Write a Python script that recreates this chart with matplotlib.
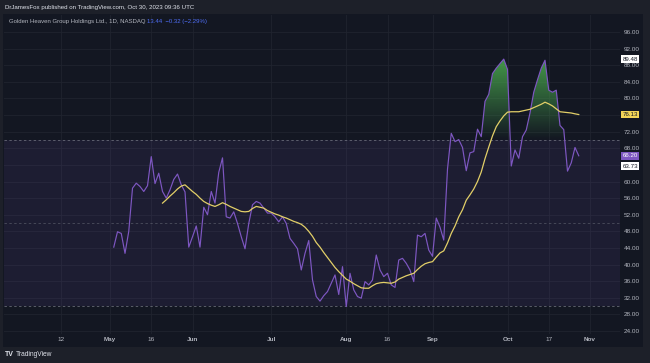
import numpy as np
import pandas as pd
import matplotlib
matplotlib.use("Agg")
import matplotlib.pyplot as plt
from matplotlib.path import Path
from matplotlib.patches import Rectangle
from matplotlib.transforms import blended_transform_factory

plt.rcParams['font.family'] = ['Liberation Sans', 'DejaVu Sans']

# trading sessions (NASDAQ closures in the span)
holidays = ["2023-04-07", "2023-05-29", "2023-06-19", "2023-07-04", "2023-09-04"]
sessions = pd.bdate_range("2023-04-03", "2023-11-30", freq="C", holidays=holidays)

# RSI(14), daily, 2023-05-02 .. 2023-10-27
rsi_start = "2023-05-02"
rsi_values = [
    44.2, 47.9, 47.5, 42.7, 48.0, 58.4, 59.6, 58.8, 57.6, 59.0,
    66.0, 59.5, 62.0, 57.6, 56.0, 58.0, 60.5, 61.8, 59.2, 57.5,
    44.2, 46.7, 49.3, 44.2, 53.8, 52.0, 57.6, 54.8, 62.2, 65.7,
    51.5, 51.2, 52.7, 49.9, 46.7, 43.8, 49.9, 54.4, 55.2, 54.8,
    53.6, 52.4, 52.4, 51.5, 50.3, 51.5, 49.9, 46.3, 45.1, 43.8,
    38.7, 42.7, 45.8, 36.3, 32.3, 31.2, 32.5, 33.5, 35.5, 37.5,
    32.8, 39.5, 29.9, 37.9, 33.9, 32.3, 31.9, 35.9, 35.1, 36.3,
    42.3, 38.7, 37.1, 37.9, 35.1, 34.5, 41.1, 41.5, 40.3, 38.7,
    35.9, 47.1, 46.7, 47.5, 43.5, 42.0, 51.2, 49.0, 45.9, 63.0,
    71.6, 69.6, 70.1, 68.2, 62.6, 66.9, 67.2, 72.6, 70.8, 79.3,
    81.0, 86.0, 87.3, 88.4, 89.48, 87.0, 63.73, 67.6, 65.6, 70.8,
    72.4, 76.5, 81.5, 84.5, 87.3, 89.2, 82.0, 81.5, 82.0, 73.5,
    72.5, 62.5, 64.5, 68.2, 66.2,
]

# RSI-based moving average, 2023-05-19 .. 2023-10-27
ma_start = "2023-05-19"
ma_values = [
    54.8, 55.6, 56.5, 57.3, 58.2, 58.9, 59.2, 58.4, 57.6, 56.9,
    56.0, 55.2, 54.7, 54.3, 54.0, 54.4, 54.9, 54.5, 54.0, 53.6,
    53.2, 52.8, 52.7, 52.8, 53.5, 54.0, 53.8, 53.6, 53.0, 52.6,
    52.2, 51.9, 51.5, 51.2, 50.8, 50.4, 50.1, 49.7, 49.0, 48.0,
    46.8, 45.3, 44.2, 42.9, 41.7, 40.5, 39.3, 38.3, 37.4, 36.5,
    36.0, 35.4, 34.9, 34.4, 34.3, 34.3, 34.9, 35.4, 35.6, 35.7,
    35.6, 35.5, 35.8, 36.5, 36.9, 37.3, 37.6, 37.9, 38.8, 39.6,
    40.2, 40.5, 40.7, 41.8, 42.8, 43.3, 45.2, 47.5, 49.3, 51.5,
    53.2, 55.5, 56.8, 58.2, 60.0, 62.3, 65.5, 68.3, 71.0, 73.2,
    74.6, 75.8, 76.7, 76.8, 76.8, 76.8, 77.0, 77.2, 77.4, 77.8,
    78.2, 78.6, 79.1, 78.7, 78.2, 77.5, 76.8, 76.7, 76.6, 76.5,
    76.3, 76.13,
]

tick_dates = ["2023-04-12", "2023-05-01", "2023-05-16", "2023-06-01", "2023-07-03",
              "2023-08-01", "2023-08-16", "2023-09-01", "2023-10-02", "2023-10-17",
              "2023-11-01"]
tick_labels = ["12", "May", "16", "Jun", "Jul", "Aug", "16", "Sep", "Oct", "17", "Nov"]

price_ticks = list(range(24, 100, 4))
hidden_price_labels = [64, 76]  # covered by the value boxes

box_values = [89.48, 76.13, 66.20, 63.73]
box_faces = ["#ffffff", "#f2d457", "#7e57c2", "#ffffff"]
box_texts = ["#131722", "#131722", "#ffffff", "#131722"]


def pos(date):
    return sessions.get_loc(pd.Timestamp(date)) - sessions.get_loc(pd.Timestamp("2023-05-01"))


rsi = np.array(rsi_values)
x_rsi = pos(rsi_start) + np.arange(len(rsi))
ma = np.array(ma_values)
x_ma = pos(ma_start) + np.arange(len(ma))
xticks = [pos(d) for d in tick_dates]

W, H = 650, 363
fig = plt.figure(figsize=(6.5, 3.63), dpi=100, facecolor="#1d2029")
fig.patches.append(Rectangle((3 / W, 1 - 347 / H), 640 / W, 333 / H, transform=fig.transFigure,
                             facecolor="#131722", edgecolor="none", zorder=-5))

ax = fig.add_axes([4 / W, 1 - 334 / H, 616 / W, 319 / H])
ax.set_facecolor("#131722")
for s in ax.spines.values():
    s.set_visible(False)

xlim = (-28.27, 136.0)
ylim = (23.28, 100.1)

# grid
for t in price_ticks:
    ax.axhline(t, color="#20242f", lw=0.6, zorder=0)
for t in xticks:
    ax.axvline(t, color="#20242f", lw=0.6, zorder=0)

# band and levels
ax.axhspan(30, 70, color="#7e57c2", alpha=0.1, lw=0, zorder=1)
for lvl, a in [(70, 0.7), (50, 0.45), (30, 0.7)]:
    ax.axhline(lvl, color="#787b86", lw=0.7, ls=(0, (2.5, 2.5)), alpha=a, zorder=2)

# overbought gradient fill
poly = ax.fill_between(x_rsi, 70, rsi, where=rsi > 70, interpolate=True,
                       facecolor="none", edgecolor="none")
grad = np.zeros((200, 1, 4))
grad[:, 0, 0] = 0x4c / 255
grad[:, 0, 1] = 0xaf / 255
grad[:, 0, 2] = 0x50 / 255
grad[:, 0, 3] = np.clip(np.linspace(0, 30 / 23, 200), 0, 1)
im = ax.imshow(grad, extent=[xlim[0], xlim[1], 70, 100], origin="lower",
               aspect="auto", zorder=3, interpolation="bilinear")
clip = Path.make_compound_path(*poly.get_paths())
im.set_clip_path(clip, transform=ax.transData)

ax.plot(x_rsi, rsi, color="#7e57c2", lw=0.85, zorder=4)
ax.plot(x_ma, ma, color="#e2cf68", lw=0.9, zorder=5)

ax.set_xlim(*xlim)
ax.set_ylim(*ylim)

ax.set_xticks(xticks)
ax.set_xticklabels(tick_labels)
ax.tick_params(axis="x", length=0, pad=2.4, labelsize=4.6, labelcolor="#b2b5be")
for lab, txt in zip(ax.get_xticklabels(), tick_labels):
    if not txt.isdigit():
        lab.set_fontweight("bold")

ax.yaxis.tick_right()
ax.set_yticks(price_ticks)
ax.set_yticklabels(["" if t in hidden_price_labels else f"{t:.2f}" for t in price_ticks])
ax.tick_params(axis="y", length=0, pad=2.6, labelsize=4.6, labelcolor="#b2b5be")

trans = blended_transform_factory(ax.transAxes, ax.transData)
for v, fc, tc in zip(box_values, box_faces, box_texts):
    ax.text(1.004, v, f"{v:.2f}", transform=trans, ha="left", va="center",
            fontsize=4.4, color=tc, clip_on=False, zorder=10,
            bbox=dict(boxstyle="square,pad=0.22", fc=fc, ec="none"))

# header / legend / footer
fig.text(5 / W, 1 - 8 / H, "DrJamesFox published on TradingView.com, Oct 30, 2023 09:36 UTC",
         fontsize=4.45, color="#e0e3eb", va="center", ha="left")
fig.text(9 / W, 1 - 21 / H, "Golden Heaven Group Holdings Ltd., 1D, NASDAQ",
         fontsize=4.3, color="#b2b5be", va="center", ha="left")
fig.text(147 / W, 1 - 21 / H, "13.44  \u22120.32 (\u22122.29%)",
         fontsize=4.3, color="#4e6df5", va="center", ha="left")
fig.text(5 / W, 1 - 355 / H, "TV", fontsize=5, color="#e0e3eb", weight="bold",
         va="center", ha="left")
fig.text(16 / W, 1 - 355 / H, "TradingView", fontsize=4.8, color="#e0e3eb",
         va="center", ha="left")

fig.savefig("out.png", dpi=100, facecolor=fig.get_facecolor())
